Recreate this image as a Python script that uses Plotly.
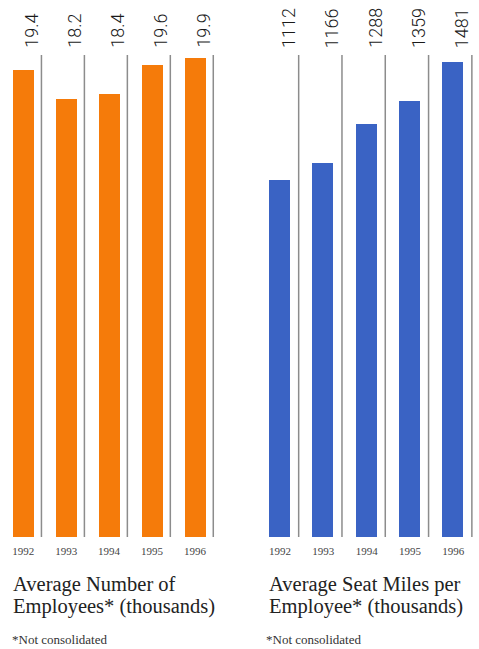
import plotly.graph_objects as go

years = ["1992", "1993", "1994", "1995", "1996"]
employees = [19.4, 18.2, 18.4, 19.6, 19.9]          # thousands
seat_miles = [1112, 1166, 1288, 1359, 1481]         # thousands per employee

W, H = 479, 649
ORANGE = "#F57B0A"
BLUE = "#3A63C4"
SEP = "#8C8C8C"
LABEL_FONT = "Roboto, Liberation Sans, sans-serif"
SERIF = "Liberation Serif, serif"


def px_x(p):
    return p / W


def px_y(p):
    return (H - p) / H


idx = list(range(len(years)))

fig = go.Figure()
fig.add_trace(go.Bar(x=idx, y=employees, marker=dict(color=ORANGE, line=dict(width=0)),
                     width=0.49, xaxis="x", yaxis="y", hoverinfo="skip"))
fig.add_trace(go.Bar(x=idx, y=seat_miles, marker=dict(color=BLUE, line=dict(width=0)),
                     width=0.485, xaxis="x2", yaxis="y2", hoverinfo="skip"))

plot_bottom, plot_top = 537, 55
ydom = [px_y(plot_bottom), px_y(plot_top)]
common_x = dict(range=[-0.5, 4.5], tickvals=idx, ticktext=years, ticks="",
                showgrid=False, zeroline=False, showline=False,
                tickfont=dict(family="Liberation Serif, serif", size=11, color="#444"),
                ticklabelstandoff=6, fixedrange=True)
common_y = dict(domain=ydom, visible=False, showgrid=False, zeroline=False, fixedrange=True)

fig.update_layout(
    width=W, height=H,
    margin=dict(l=0, r=0, t=0, b=0),
    paper_bgcolor="white", plot_bgcolor="white",
    showlegend=False, bargap=0,
    xaxis=dict(domain=[px_x(1.7), px_x(216.5)], anchor="y", **common_x),
    yaxis=dict(range=[0, 20.008], anchor="x", **common_y),
    xaxis2=dict(domain=[px_x(258.4), px_x(474.9)], anchor="y2", **common_x),
    yaxis2=dict(range=[0, 1502.5], anchor="x2", **common_y),
)

shapes = []
annotations = []
panels = [("x", "y", employees, 0.425, 0.177), ("x2", "y2", seat_miles, 0.43, 0.185)]
for xr, yr, vals, sep_off, lab_off in panels:
    for i, v in enumerate(vals):
        # thin divider to the right of each bar
        shapes.append(dict(type="line", xref=xr, yref=f"{yr} domain",
                           x0=i + sep_off, x1=i + sep_off, y0=0, y1=1,
                           line=dict(color=SEP, width=1.5)))
        # rotated value label above the plot area
        annotations.append(dict(xref=xr, yref="paper", x=i + lab_off, y=px_y(50),
                                xanchor="center", yanchor="bottom", showarrow=False,
                                textangle=-90, text=f"{v}",
                                font=dict(family=LABEL_FONT, size=18, weight=300, color="#1a1a1a")))

titles = [
    (12, ["Average Number of", "Employees* (thousands)"]),
    (268, ["Average Seat Miles per", "Employee* (thousands)"]),
]
for x0, lines in titles:
    for k, line in enumerate(lines):
        annotations.append(dict(xref="paper", yref="paper", x=px_x(x0), y=px_y(584 + 22 * k),
                                xanchor="left", yanchor="middle", showarrow=False, borderpad=0,
                                text=line, font=dict(family=SERIF, size=20.5, color="#222")))

for x0 in (11, 265):
    annotations.append(dict(xref="paper", yref="paper", x=px_x(x0), y=px_y(639),
                            xanchor="left", yanchor="middle", showarrow=False, borderpad=0,
                            text="*Not consolidated",
                            font=dict(family=SERIF, size=13, color="#333")))

fig.update_layout(shapes=shapes, annotations=annotations)
fig.write_html("out.html")
